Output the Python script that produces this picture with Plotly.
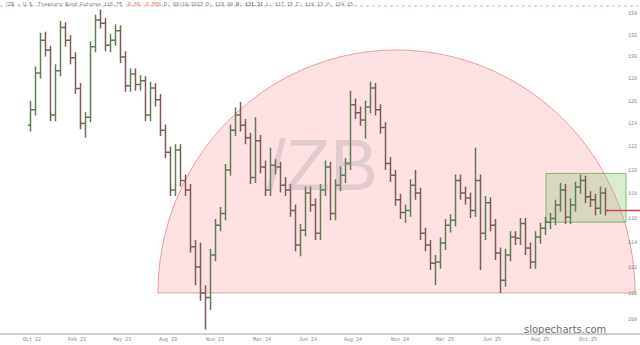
import numpy as np
import plotly.graph_objects as go

# ---- data (one bar ~ one week) ----
opens = [123.85,125.2,128.5,131.5,130.6,124.75,128.7,132.7,131.5,129.9,
         127.1,124.0,124.55,130.9,133.4,133.1,131.05,131.5,132.4,129.95,
         127.35,128.4,127.45,127.8,124.75,127.15,126.1,123.4,121.5,118.3,
         121.7,119.1,118.3,113.65,112.05,110.0,109.65,113.0,115.4,116.35,
         120.0,123.4,124.75,123.85,122.75,119.35,122.5,120.25,118.3,120.4,
         120.25,118.7,118.3,116.6,113.8,115.0,118.05,117.05,114.75,118.3,
         120.25,116.35,118.7,119.55,120.55,125.65,124.95,124.3,125.45,127.15,
         125.2,123.65,120.55,119.55,117.5,116.45,116.6,118.7,118.05,114.75,
         113.8,112.35,112.45,113.95,115.4,115.8,119.1,118.05,117.65,116.6,
         119.1,114.75,117.25,115.4,113.15,111.0,113.0,114.45,114.35,115.55,
         113.55,112.45,114.45,115.15,115.65,115.95,117.05,118.3,116.05,117.05,
         118.55,119.1,117.75,117.5,116.8,118.05]
closes = [125.2,128.5,131.5,130.6,124.75,128.7,132.7,131.5,129.9,127.1,
          124.0,124.55,130.9,133.4,133.1,131.05,131.5,132.4,129.95,127.35,
          128.4,127.45,127.8,124.75,127.15,126.1,123.4,121.5,118.3,121.7,
          119.1,118.3,113.65,112.05,110.0,109.65,113.0,115.4,116.35,120.0,
          123.4,124.75,123.85,122.75,119.35,122.5,120.25,118.3,120.4,120.25,
          118.7,118.3,116.6,113.8,115.0,118.05,117.05,114.75,118.3,120.25,
          116.35,118.7,119.55,120.55,125.65,124.95,124.3,125.45,127.15,125.2,
          123.65,120.55,119.55,117.5,116.45,116.6,118.7,118.05,114.75,113.8,
          112.35,112.45,113.95,115.4,115.8,119.1,118.05,117.65,116.6,119.1,
          114.75,117.25,115.4,113.15,111.0,113.0,114.45,114.35,115.55,113.55,
          112.45,114.45,115.15,115.65,115.95,117.05,118.3,116.05,117.05,118.55,
          119.1,117.75,117.5,116.8,118.05,116.6]
highs = [126.0,129.1,132.2,132.3,131.0,129.3,133.3,133.2,132.0,130.4,
         127.6,125.0,131.4,133.9,134.4,133.6,132.1,133.0,132.9,130.5,
         128.9,128.9,128.3,128.2,127.7,127.6,126.6,123.9,122.0,122.2,
         122.2,119.6,118.8,114.2,114.0,110.6,113.5,115.9,116.9,120.5,
         123.9,125.4,125.9,124.4,123.2,124.55,123.0,120.8,121.9,120.9,
         120.7,119.4,118.8,117.1,115.5,118.6,118.6,117.6,118.8,120.8,
         120.7,119.2,120.3,121.0,126.9,126.2,125.5,126.0,127.7,127.6,
         125.7,124.1,121.1,120.0,118.0,117.1,119.2,120.0,118.5,115.2,
         114.2,113.0,114.4,115.9,116.3,119.6,119.6,118.6,118.1,121.9,
         119.6,117.8,117.7,115.9,113.6,113.5,114.9,114.9,116.0,116.0,
         114.0,114.9,115.6,116.1,116.4,117.5,118.9,118.8,117.6,119.0,
         119.6,119.5,118.2,118.0,118.6,118.5]
lows = [123.3,124.7,128.0,130.0,124.2,124.2,128.2,130.9,129.3,126.6,
        123.5,122.75,124.1,130.4,132.6,130.5,130.4,131.0,129.4,126.8,
        126.8,126.9,126.9,124.2,124.2,125.5,122.9,121.0,117.8,117.8,
        118.6,117.8,113.2,110.6,109.4,107.2,108.7,112.5,114.9,115.8,
        119.5,122.9,123.3,122.2,118.8,118.9,119.7,117.8,117.8,119.6,
        118.1,117.8,116.1,113.3,112.9,114.5,116.5,114.2,114.2,117.8,
        115.8,115.8,118.2,118.9,120.0,124.4,123.8,122.7,124.9,124.7,
        123.1,120.0,119.0,117.0,115.9,115.6,116.1,117.5,114.2,113.3,
        111.8,110.6,111.9,113.4,114.8,115.3,117.5,117.1,116.0,116.1,
        111.8,114.2,114.9,112.6,110.0,110.5,112.5,113.8,113.8,113.0,
        111.9,111.9,113.9,114.6,115.1,115.4,116.5,115.5,115.5,116.5,
        118.0,117.2,116.9,116.2,116.3,116.2]
bars = list(range(len(opens)))

tick_pos = [0.3, 9.3, 18.3, 27.5, 36.9, 46.3, 55.5, 64.5, 73.9, 82.9, 92.3, 101.9, 111.5]
tick_text = ["Oct 22", "Feb 23", "May 23", "Aug 23", "Nov 23", "Mar 24", "Jun 24",
             "Aug 24", "Nov 24", "Mar 25", "Jun 25", "Aug 25", "Oct 25"]
price_ticks = list(range(108, 136, 2))

box_x = [103.1, 119.1]
box_y = [115.65, 119.7]
last_price = closes[-1]

W, H = 640, 345
PLOT_H = 333
x_range = [-6.1, 121.9]
y_range = [np.log10(106.94), np.log10(135.3)]

fig = go.Figure()
fig.add_trace(go.Ohlc(
    x=bars, open=opens, high=highs, low=lows, close=closes,
    increasing=dict(line=dict(color="#5f7d55", width=1.5)),
    decreasing=dict(line=dict(color="#7b5c57", width=1.5)),
    tickwidth=0.5, showlegend=False, hoverinfo="skip",
))

# semicircle (pixel geometry converted to paper coords)
cx, cy, rx, ry = 396.5, 293, 238.5, 243
th = np.linspace(np.pi, 0, 120)
px = cx + rx * np.cos(th)
py = cy - ry * np.sin(th)
xs = px / W
ys = (PLOT_H - py) / PLOT_H
path = "M " + " L ".join(f"{a:.5f},{b:.5f}" for a, b in zip(xs, ys)) + " Z"
shapes = [
    dict(type="path", path=path, xref="paper", yref="paper", layer="below",
         fillcolor="rgba(252,200,204,0.55)", line=dict(color="rgba(225,120,125,0.7)", width=1)),
    dict(type="rect", xref="x", yref="y", x0=box_x[0], x1=box_x[1],
         y0=box_y[0], y1=box_y[1], layer="below",
         fillcolor="rgba(150,200,120,0.35)", line=dict(color="rgba(110,170,90,0.8)", width=1)),
    dict(type="line", xref="x", yref="y", x0=115.3, x1=x_range[1],
         y0=last_price, y1=last_price,
         line=dict(color="#d9434a", width=1.5)),
    dict(type="line", xref="paper", yref="paper", x0=0, x1=1,
         y0=(PLOT_H - 6) / PLOT_H, y1=(PLOT_H - 6) / PLOT_H,
         line=dict(color="rgba(240,150,150,0.8)", width=1, dash="dot")),
]

annotations = [
    dict(text="/ZB", x=0.503, y=(PLOT_H - 165) / PLOT_H, xref="paper", yref="paper",
         showarrow=False, font=dict(family="Liberation Sans", size=72, color="rgba(150,150,150,0.28)")),
    dict(text="slopecharts.com", x=608 / W, y=(PLOT_H - 329) / PLOT_H, xref="paper", yref="paper",
         xanchor="right", yanchor="middle", showarrow=False,
         font=dict(family="DejaVu Sans", size=10, color="#6e6e6e")),
    dict(text="/ZB - U.S. Treasury Bond Futures 116.75 "
              "<span style='color:#e06060'>-0.66 -0.56%</span> D: 09/18/2023 O: 119.00 "
              "<b>H: 131.31</b> L: 117.16 C: 118.13 V: 104.15",
         x=0.004, y=1.0, xref="paper", yref="paper", xanchor="left", yanchor="top",
         showarrow=False, font=dict(family="Liberation Mono", size=5, color="#777")),
]

fig.update_layout(
    width=W, height=H, margin=dict(l=0, r=0, t=0, b=H - PLOT_H),
    paper_bgcolor="white", plot_bgcolor="white",
    shapes=shapes, annotations=annotations, showlegend=False,
    xaxis=dict(range=x_range, showgrid=False, zeroline=False, rangeslider=dict(visible=False),
               tickvals=tick_pos, ticktext=tick_text, ticks="",
               tickfont=dict(family="Liberation Mono", size=5, color="#888"),
               showline=True, linecolor="#cfcfcf", linewidth=2),
    yaxis=dict(type="log", range=y_range, side="right", ticklabelposition="inside",
               tickvals=price_ticks, ticktext=[str(v) for v in price_ticks],
               tickfont=dict(family="Liberation Mono", size=5, color="#888"),
               showgrid=False, zeroline=False, ticks=""),
)

fig.write_html("out.html")
